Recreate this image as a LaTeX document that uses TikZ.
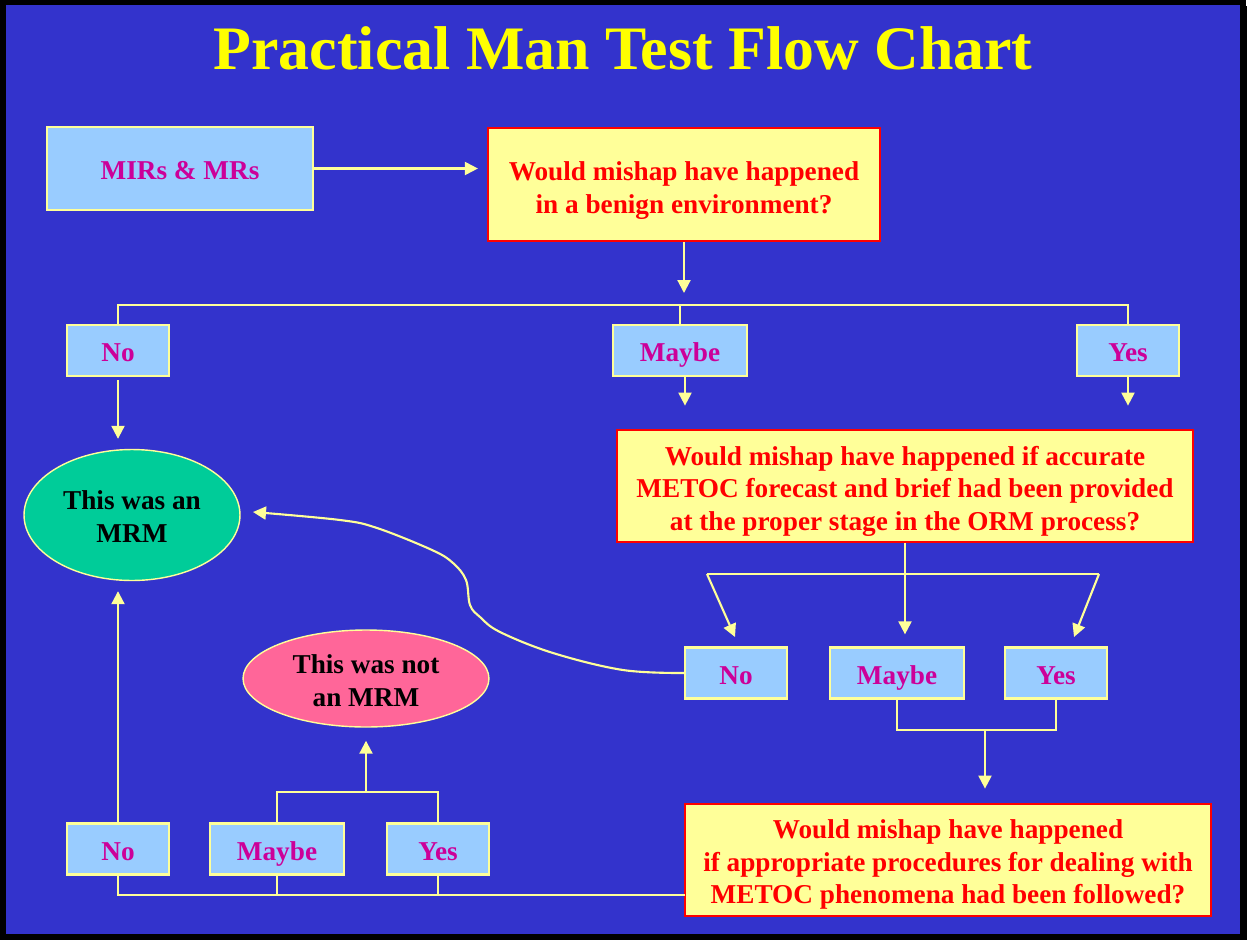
\documentclass[tikz,border=0pt]{standalone}
\usepackage{fontspec}
\setmainfont{Liberation Serif}
\usetikzlibrary{arrows.meta,shapes.geometric}

\definecolor{slide}{HTML}{3333CC}
\definecolor{paleyellow}{HTML}{FFFF99}
\definecolor{titleyellow}{HTML}{FFFF00}
\definecolor{skyblue}{HTML}{99CCFF}
\definecolor{answertext}{HTML}{CC0099}
\definecolor{mrmgreen}{HTML}{00CC99}
\definecolor{mrmpink}{HTML}{FF6699}

\begin{document}
\begin{tikzpicture}[x=0.02cm, y=-0.02cm,
  every node/.style={align=center, font=\bfseries\fontsize{15.5}{18.7}\selectfont, inner sep=0pt},
  answer/.style={draw=paleyellow, line width=1.3pt, fill=skyblue, text=answertext, minimum width=2.04cm, minimum height=1.02cm, text height=15pt, text depth=2pt},
  question/.style={draw=red, line width=1.3pt, fill=paleyellow, text=red, minimum height=2.25cm, text height=#1, text depth=0pt},
  verdict/.style={ellipse, draw=paleyellow, line width=0.8pt, text=black, text height=31.5pt, text depth=0pt},
  link/.style={draw=paleyellow, line width=1.2pt},
  flow/.style={link, -{Triangle[length=0.26cm, width=0.26cm]}}]
\useasboundingbox (0,0) rectangle (1247,940);
\fill[white] (0,0) rectangle (1247,940);
\fill[black] (7,6) rectangle (1247,940);
\filldraw[fill=slide, draw=black, line width=3pt] (3,2) rectangle (1243,937);

\node (title) at (623,48) [text=titleyellow, font=\bfseries\fontsize{35.2}{40}\selectfont] {Practical Man Test Flow Chart};

\node (mirs) at (180,168.5) [answer, minimum width=5.32cm, minimum height=1.66cm] {MIRs \& MRs};
\node (q1) at (684,184.5) [question=33pt, minimum width=7.84cm] {Would mishap have happened\\in a benign environment?};

\node (no1) at (118,350.5) [answer] {No};
\node (maybe1) at (680,350.5) [answer, minimum width=2.68cm] {Maybe};
\node (yes1) at (1128,350.5) [answer] {Yes};

\node (mrm) at (132,515) [verdict, fill=mrmgreen, minimum width=4.32cm, minimum height=2.62cm] {This was an\\MRM};
\node (q2) at (905,486) [question=51pt, minimum width=11.52cm] {Would mishap have happened if accurate\\METOC forecast and brief had been provided\\at the proper stage in the ORM process?};

\node (no2) at (736,673) [answer] {No};
\node (maybe2) at (897,673) [answer, minimum width=2.68cm] {Maybe};
\node (yes2) at (1056,673) [answer] {Yes};

\node (notmrm) at (366,678.5) [verdict, fill=mrmpink, minimum width=4.92cm, minimum height=1.94cm] {This was not\\an MRM};
\node (q3) at (948,860) [question=50pt, minimum width=10.52cm] {Would mishap have happened\\if appropriate procedures for dealing with\\METOC phenomena had been followed?};

\node (no3) at (118,849) [answer] {No};
\node (maybe3) at (277,849) [answer, minimum width=2.68cm] {Maybe};
\node (yes3) at (438,849) [answer] {Yes};

\coordinate (fork1) at (684,305);
\coordinate (fork2l) at (707,574);
\coordinate (fork2r) at (1099,574);
\coordinate (tipno) at (735,637);
\coordinate (tipyes) at (1074,637);
\coordinate (join2) at (985,730);
\coordinate (join3) at (366,792);
\coordinate (rail) at (685,895);
\coordinate (mrmin) at (253,512);

% first question
\draw[flow, shorten >=0.18cm] (mirs.east) -- (mirs.east -| q1.west);
\draw[flow, shorten >=0.24cm] (q1.south) -- (fork1);
\draw[link] (no1.north) |- (yes1.north |- fork1) -- (yes1.north);
\draw[link] (maybe1.north) -- (maybe1.north |- fork1);
\draw[flow, shorten <=0.06cm, shorten >=0.2cm] (no1.south) -- (no1.south |- mrm.north);
\draw[flow, shorten >=0.46cm] ([xshift=0.1cm]maybe1.south) -- ([xshift=0.1cm]maybe1.south |- q2.north);
\draw[flow, shorten >=0.46cm] (yes1.south) -- (yes1.south |- q2.north);

% second question
\draw[flow, shorten >=0.24cm] (q2.south) -- (q2.south |- maybe2.north);
\draw[link] (fork2l) -- (fork2r);
\draw[flow] (fork2l) -- (tipno);
\draw[flow] (fork2r) -- (tipyes);
\draw[flow] plot[smooth, tension=0.6] coordinates {(no2.west) (623,670) (553,653) (500,632) (480,617) (470,605) (466,580) (453,563) (432,550) (377,528) (340,520) (mrmin)};
\draw[link] (maybe2.south) |- (join2) -| (yes2.south);
\draw[flow, shorten >=0.28cm] (join2) -- (join2 |- q3.north);

% third question
\draw[link] (rail) -| (no3.south);
\draw[link] (maybe3.south) -- (maybe3.south |- rail);
\draw[link] (yes3.south) -- (yes3.south |- rail);
\draw[flow, shorten >=0.2cm] (no3.north) -- (no3.north |- mrm.south);
\draw[link] (maybe3.north) |- (join3) -| (yes3.north);
\draw[flow, shorten >=0.26cm] (join3) -- (notmrm.south);
\end{tikzpicture}
\end{document}
